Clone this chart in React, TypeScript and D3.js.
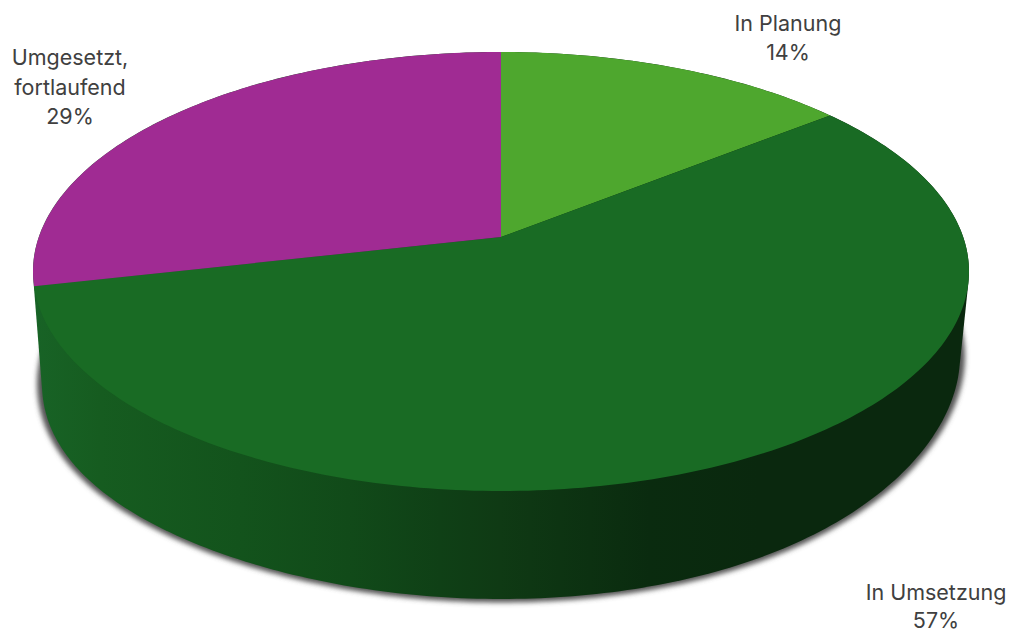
import React from "react";
import * as d3 from "d3";

const categories = ["In Planung", "In Umsetzung", "Umgesetzt, fortlaufend"];
const seriesValues = [1, 4, 2];
const percentLabels = ["14%", "57%", "29%"];
const sliceColors = ["#4EA72E", "#196B24", "#A02B93"];
const labelLines = [["In Planung", "14%"], ["In Umsetzung", "57%"], ["Umgesetzt,", "fortlaufend", "29%"]];
const labelCenters = [[788, 22.5], [936, 592], [70, 57]];
const lineGaps = [29.5, 28, 29.5];
const sideStops: [number, string][] = [
  [34, "#186326"], [100, "#165c20"], [240, "#13531c"], [350, "#114a19"],
  [440, "#0f4016"], [500, "#0f3a14"], [650, "#0a2b0f"], [760, "#0a280e"], [970, "#0a280e"],
];

const W = 1013, H = 632;
const cx = 501, apexY = 237;
const topY = 52, botY = 491, halfW = 468;
const upper = apexY - topY, lower = botY - apexY;
const p = (upper - lower) / (upper + lower);
const a = upper * (1 - p);
const b = halfW * Math.sqrt(1 - p * p);

// perspective projection of a point on the unit disc (angle clockwise from 12 o'clock)
const project = (t: number): [number, number] => {
  const u = Math.sin(t), v = -Math.cos(t), w = 1 + p * v;
  return [cx + (b * u) / w, apexY + (a * v) / w];
};

const pieAngles = d3.pie<number>().sort(null)(seriesValues);
const line = d3.line();

const slicePath = (s: number, e: number) => {
  const n = Math.max(8, Math.ceil((e - s) * 60));
  const pts = d3.range(n + 1).map((i) => project(s + ((e - s) * i) / n));
  return line([[cx, apexY], ...pts])! + "Z";
};

const base = { cy: 370, rx: 459, ry: 229, tilt: 14 };
// lower rim: an ellipse whose far ends sag to the left and lift to the right
const rimPts = (rx: number, ry: number) =>
  d3.range(360).map((i): [number, number] => {
    const t = (i * Math.PI) / 180;
    const c = Math.cos(t);
    return [cx + rx * c, base.cy + ry * Math.sin(t) - base.tilt * c * c * c * Math.abs(c)];
  });
const topPts = d3.range(360).map((i) => project((i * Math.PI) / 180));
const hull = d3.polygonHull([...topPts, ...rimPts(base.rx, base.ry)])!;
const shadow = rimPts(base.rx + 5, base.ry + 3.5);

export default function App() {
  return (
    <svg width={W} height={H} style={{ position: "absolute", left: 0, top: 0, display: "block" }}>
      <defs>
        <filter id="sh" x="-5%" y="-5%" width="110%" height="110%">
          <feGaussianBlur stdDeviation="2.6" />
        </filter>
        <linearGradient id="side" gradientUnits="userSpaceOnUse" x1={0} x2={1013} y1={0} y2={0}>
          {sideStops.map(([x, c]) => (
            <stop key={x} offset={x / 1013} stopColor={c} />
          ))}
        </linearGradient>
      </defs>
      <rect width={W} height={H} fill="#fff" />
      <path d={line(shadow)! + "Z"} fill="#555" filter="url(#sh)" />
      <path d={line(hull)! + "Z"} fill="url(#side)" />
      {pieAngles.map((s, i) => (
        <path key={categories[i]} d={slicePath(s.startAngle, s.endAngle)} fill={sliceColors[i]} />
      ))}
      {labelLines.map((lines, i) => (
        <text
          key={percentLabels[i]}
          x={labelCenters[i][0]}
          y={labelCenters[i][1]}
          textAnchor="middle"
          dominantBaseline="central"
          fontFamily="Inter, sans-serif"
          fontSize={21.5}
          fill="#404040"
        >
          {lines.map((l, j) => (
            <tspan key={l} x={labelCenters[i][0]} dy={j === 0 ? 0 : lineGaps[i]}>
              {l}
            </tspan>
          ))}
        </text>
      ))}
    </svg>
  );
}
